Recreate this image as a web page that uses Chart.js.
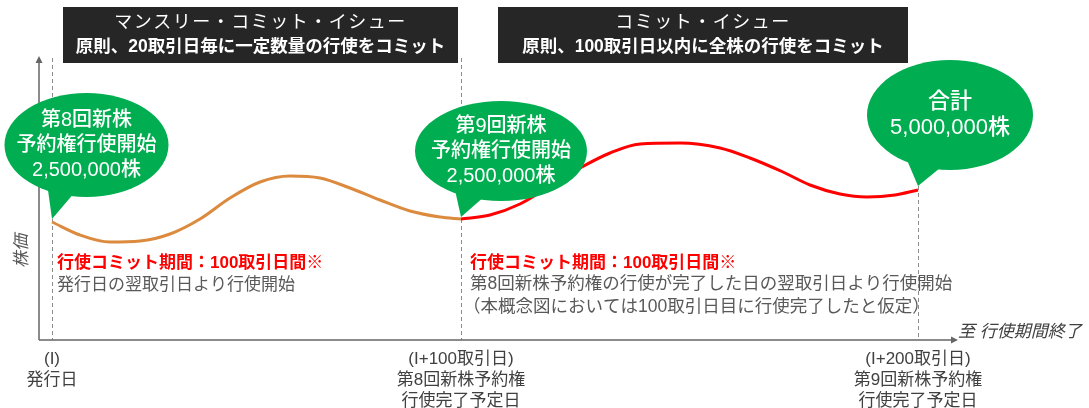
<!DOCTYPE html>
<html>
<head>
<meta charset="utf-8">
<script src="https://cdn.jsdelivr.net/npm/chart.js@4.4.1/dist/chart.umd.min.js"></script>
<style>
html,body{margin:0;padding:0;background:#fff;}
#wrap{width:1089px;height:408px;position:relative;}
</style>
</head>
<body>
<div id="wrap"><canvas id="c" width="1089" height="408"></canvas></div>
<script>
// ---- Data (x: position along the time axis, y: relative share-price level) ----
const phase1X = [13, 41, 71, 101, 131, 161, 191, 221, 251, 281, 311, 341, 371, 401, 422];
const phase1Y = [118, 105, 98, 99, 106, 121, 142, 158, 164, 162, 152, 140, 129, 123, 121];
const phase2X = [422, 451, 481, 511, 541, 571, 601, 641, 681, 711, 744, 771, 801, 828, 856, 879];
const phase2Y = [121, 125, 136, 154, 172, 187, 196, 197, 192, 182, 168, 155, 146, 143, 145, 150];
const markerX = [13, 422, 879];
const tickLabels = [
  ["(I)", "発行日"],
  ["(I+100取引日)", "第8回新株予約権", "行使完了予定日"],
  ["(I+200取引日)", "第9回新株予約権", "行使完了予定日"]
];
const bubbleTexts = [
  ["第8回新株", "予約権行使開始", "2,500,000株"],
  ["第9回新株", "予約権行使開始", "2,500,000株"],
  ["合計", "5,000,000株"]
];
const boxTitles = ["マンスリー・コミット・イシュー", "コミット・イシュー"];
const boxSubtitles = ["原則、20取引日毎に一定数量の行使をコミット", "原則、100取引日以内に全株の行使をコミット"];
const periodLabel = "行使コミット期間：100取引日間※";
const note1 = ["発行日の翌取引日より行使開始"];
const note2 = ["第8回新株予約権の行使が完了した日の翌取引日より行使開始", "（本概念図においては100取引日目に行使完了したと仮定）"];
const yAxisTitle = "株価";
const xAxisTitle = "至 行使期間終了";

const FONT = '"Liberation Sans", "Noto Sans CJK JP", sans-serif';
const GREEN = '#00AD50';

function pts(xs, ys){ return xs.map((x,i)=>({x:x, y:ys[i]})); }

function drawBubble(ctx, cx, cy, rx, ry, tailL, tailR, tip, lines, fontSize, lineH){
  ctx.save();
  ctx.fillStyle = GREEN;
  ctx.beginPath();
  ctx.ellipse(cx, cy, rx, ry, 0, 0, Math.PI*2);
  ctx.fill();
  ctx.beginPath();
  ctx.moveTo(tailL[0], tailL[1]);
  ctx.lineTo(tip[0], tip[1]);
  ctx.lineTo(tailR[0], tailR[1]);
  ctx.closePath();
  ctx.fill();
  ctx.fillStyle = '#fff';
  ctx.font = '500 ' + fontSize + 'px ' + FONT;
  ctx.textAlign = 'center';
  ctx.textBaseline = 'middle';
  const n = lines.length;
  lines.forEach((t,i)=>{
    ctx.fillText(t, cx, cy + (i-(n-1)/2)*lineH);
  });
  ctx.restore();
}

const overlay = {
  id: 'overlay',
  beforeDatasetsDraw(chart){
    const ctx = chart.ctx, xs = chart.scales.x;
    const area = chart.chartArea;
    ctx.save();
    // dashed vertical markers
    ctx.strokeStyle = '#8c8c8c';
    ctx.lineWidth = 1;
    ctx.setLineDash([4,3]);
    markerX.forEach((v,i)=>{
      const px = Math.round(xs.getPixelForValue(v)) + 0.5;
      const top = i < 2 ? 58 : 186;
      ctx.beginPath(); ctx.moveTo(px, top); ctx.lineTo(px, area.bottom); ctx.stroke();
    });
    ctx.setLineDash([]);
    // axes
    ctx.strokeStyle = '#666';
    ctx.fillStyle = '#666';
    ctx.lineWidth = 1.5;
    ctx.beginPath();
    ctx.moveTo(area.left, area.bottom);
    ctx.lineTo(area.left, 62);
    ctx.moveTo(area.left, area.bottom);
    ctx.lineTo(area.right, area.bottom);
    ctx.stroke();
    ctx.beginPath();
    ctx.moveTo(area.left, 56); ctx.lineTo(area.left-3.5, 63); ctx.lineTo(area.left+3.5, 63); ctx.closePath(); ctx.fill();
    ctx.beginPath();
    ctx.moveTo(area.right+6, area.bottom); ctx.lineTo(area.right-1, area.bottom-3.5); ctx.lineTo(area.right-1, area.bottom+3.5); ctx.closePath(); ctx.fill();
    ctx.restore();
  },
  afterDatasetsDraw(chart){
    const ctx = chart.ctx, xs = chart.scales.x, ys = chart.scales.y;
    ctx.save();
    // top dark boxes
    const boxes = [[63, 458], [498, 908]];
    boxes.forEach((b,i)=>{
      ctx.fillStyle = '#262626';
      ctx.fillRect(b[0], 7, b[1]-b[0], 56);
      const cx = (b[0]+b[1])/2;
      ctx.fillStyle = '#fff';
      ctx.textAlign = 'center';
      ctx.textBaseline = 'middle';
      ctx.font = '400 18px ' + FONT;
      ctx.letterSpacing = '1.5px';
      ctx.fillText(boxTitles[i], cx, 23);
      ctx.letterSpacing = '0px';
      ctx.font = 'bold 17.5px ' + FONT;
      ctx.fillText(boxSubtitles[i], cx, 47);
    });

    // bubbles anchored on curve points
    const p1 = [xs.getPixelForValue(phase1X[0]), ys.getPixelForValue(phase1Y[0])];
    const p2 = [xs.getPixelForValue(phase2X[0]), ys.getPixelForValue(phase2Y[0])];
    const p3 = [xs.getPixelForValue(phase2X[phase2X.length-1]), ys.getPixelForValue(phase2Y[phase2Y.length-1])];
    drawBubble(ctx, 86.5, 145, 82, 52, [48,190], [75,192], [p1[0], p1[1]-3], bubbleTexts[0], 20, 25);
    drawBubble(ctx, 501, 151, 86, 50, [455,190], [485,196], [p2[0], p2[1]-2], bubbleTexts[1], 20, 25);
    drawBubble(ctx, 950, 115, 83, 55, [907,160], [940,168], [p3[0], p3[1]-4], bubbleTexts[2], 22, 26);

    // notes
    ctx.textAlign = 'left';
    ctx.textBaseline = 'middle';
    ctx.fillStyle = '#FF0000';
    ctx.font = 'bold 17px ' + FONT;
    ctx.fillText(periodLabel, 57, 263);
    ctx.fillText(periodLabel, 470, 263);
    ctx.fillStyle = '#595959';
    ctx.font = '400 17px ' + FONT;
    note1.forEach((t,i)=> ctx.fillText(t, 57, 285 + i*23));
    ctx.font = '400 17.5px ' + FONT;
    note2.forEach((t,i)=> ctx.fillText(t, i===0 ? 470 : 463, 284 + i*23));

    // axis titles
    ctx.save();
    ctx.translate(22, 251);
    ctx.rotate(-Math.PI/2);
    ctx.fillStyle = '#595959';
    ctx.font = 'italic 17px ' + FONT;
    ctx.textAlign = 'center';
    ctx.fillText(yAxisTitle, 0, 0);
    ctx.restore();
    ctx.fillStyle = '#404040';
    ctx.font = 'italic 17px ' + FONT;
    ctx.textAlign = 'left';
    ctx.fillText(xAxisTitle, 958, 332);

    // tick labels
    ctx.fillStyle = '#404040';
    ctx.font = '400 17px ' + FONT;
    ctx.textAlign = 'center';
    markerX.forEach((v,i)=>{
      const px = xs.getPixelForValue(v);
      tickLabels[i].forEach((t,j)=> ctx.fillText(t, px, 359 + j*21));
    });
    ctx.restore();
  }
};

new Chart(document.getElementById('c'), {
  type: 'line',
  data: {
    datasets: [
      { data: pts(phase1X, phase1Y), borderColor: '#DB8A3E', borderWidth: 3, pointRadius: 0, cubicInterpolationMode: 'monotone', fill: false },
      { data: pts(phase2X, phase2Y), borderColor: '#FF0000', borderWidth: 3, pointRadius: 0, cubicInterpolationMode: 'monotone', fill: false }
    ]
  },
  options: {
    responsive: false,
    animation: false,
    events: [],
    layout: { padding: { left: 39, right: 137, top: 59, bottom: 68 } },
    plugins: { legend: { display: false }, tooltip: { enabled: false } },
    scales: {
      x: { type: 'linear', min: 0, max: 913, display: false },
      y: { type: 'linear', min: 0, max: 281, display: false }
    }
  },
  plugins: [overlay]
});
</script>
</body>
</html>
